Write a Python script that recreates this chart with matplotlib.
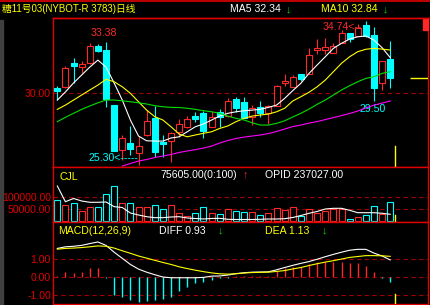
import matplotlib
matplotlib.use('Agg')
import matplotlib.pyplot as plt
from matplotlib.lines import Line2D
from matplotlib.patches import Rectangle
import numpy as np

plt.rcParams['font.family'] = ['Liberation Sans', 'Noto Sans CJK SC', 'DejaVu Sans']

W, H = 430, 305

title = '糖11号03(NYBOT-R 3783)日线'

# daily candles
opens = [30.33, 30.39, 31.97, 31.70, 31.97, 33.10, 32.84, 29.23, 26.28, 26.72,
         26.10, 27.27, 28.36, 26.83, 26.89, 27.44, 27.77, 28.49, 28.69, 27.77,
         28.75, 28.51, 29.61, 29.45, 28.47, 29.08, 28.73, 29.17, 30.70, 30.43,
         31.29, 31.27, 32.86, 32.86, 32.62, 33.28, 33.93, 33.78, 34.48, 33.82,
         30.66, 32.25]
highs = [30.50, 31.79, 32.30, 32.14, 33.28, 33.23, 33.38, 29.23, 27.27, 27.86,
         27.20, 28.90, 29.17, 27.27, 27.45, 28.30, 28.51, 28.75, 28.86, 28.86,
         28.95, 29.67, 29.74, 29.74, 29.23, 29.50, 29.23, 30.55, 31.27, 31.22,
         31.29, 32.95, 33.56, 33.61, 33.32, 34.15, 33.93, 34.52, 34.74, 34.37,
         32.15, 33.43]
lows = [29.56, 30.35, 30.66, 31.35, 31.90, 32.70, 29.08, 26.20, 25.62, 25.95,
        25.30, 27.20, 25.84, 25.84, 25.51, 27.15, 27.72, 28.14, 27.05, 27.77,
        27.81, 28.45, 28.79, 28.36, 27.92, 28.47, 27.99, 29.17, 30.48, 30.43,
        30.83, 31.27, 32.56, 32.56, 32.62, 33.28, 33.38, 33.78, 33.70, 29.50,
        30.22, 30.37]
closes = [30.15, 31.64, 31.79, 31.92, 33.10, 32.79, 29.61, 26.24, 27.05, 26.35,
          26.54, 28.18, 26.17, 26.68, 27.38, 27.97, 28.30, 28.31, 27.55, 28.43,
          28.47, 29.51, 29.02, 28.36, 29.02, 28.73, 29.17, 30.48, 30.81, 31.09,
          30.94, 32.51, 32.97, 33.04, 33.10, 33.93, 33.56, 34.30, 33.78, 30.37,
          32.12, 30.98]

# moving averages as shown
ma5 = [29.56, 30.09, 30.68, 31.20, 31.72, 32.18, 31.72, 30.68, 29.56, 28.25,
       27.20, 26.89, 26.87, 26.87, 27.07, 27.15, 27.48, 27.81, 27.99, 28.25,
       28.51, 28.69, 28.79, 28.86, 28.90, 28.95, 29.08, 29.23, 29.67, 30.18,
       30.66, 31.31, 31.86, 32.40, 32.95, 33.28, 33.56, 33.71, 33.76, 33.49,
       32.99, 32.34]
ma10 = [28.95, 29.23, 29.56, 29.89, 30.22, 30.54, 30.92, 30.76, 30.43, 30.00,
        29.45, 28.90, 28.47, 28.25, 27.81, 27.33, 27.15, 27.27, 27.38, 27.48,
        27.70, 27.86, 28.14, 28.36, 28.51, 28.58, 28.64, 28.79, 29.02, 29.50,
        29.78, 30.07, 30.43, 30.87, 31.42, 31.97, 32.40, 32.73, 32.89, 32.95,
        32.90, 32.84]
ma20 = [28.14, 28.43, 28.69, 28.95, 29.17, 29.38, 29.56, 29.56, 29.51, 29.45,
        29.38, 29.30, 29.19, 29.12, 29.08, 29.07, 29.02, 28.95, 28.86, 28.79,
        28.69, 28.51, 28.36, 28.25, 28.07, 27.92, 27.92, 28.03, 28.20, 28.45,
        28.69, 28.97, 29.28, 29.56, 29.89, 30.22, 30.50, 30.76, 30.98, 31.09,
        31.31, 31.42]
ma60 = [np.nan] * 8 + [25.23, 25.40, 25.56, 25.66, 25.79, 25.89, 25.99, 26.12, 26.22, 26.31,
                       26.41, 26.54, 26.74, 26.91, 27.04, 27.13, 27.20, 27.27, 27.36, 27.50,
                       27.66, 27.82, 27.92, 28.05, 28.15, 28.28, 28.41, 28.54, 28.68, 28.84,
                       29.04, 29.23, 29.36, 29.50]

# volume (CJL) and open interest (OPID)
vol = [86600, 66300, 73200, 41900, 59400, 58100, 109800, 143500, 73200, 73200,
       59400, 60000, 66300, 48800, 66300, 35000, 21500, 32500, 56900, 32500,
       28500, 48800, 40000, 36600, 36600, 25600, 32500, 55300, 45900, 56900,
       22800, 48800, 32500, 41900, 48800, 48800, 8100, 16300, 25600, 63400,
       28500, 77200]
opid = [299500, 264800, 271900, 266400, 263500, 263500, 264200, 253800, 252000, 239800,
        235400, 231700, 229500, 229500, 231000, 231700, 228800, 227700, 226600, 227700,
        228100, 225900, 225500, 225500, 225500, 225900, 226600, 226600, 227200, 229900,
        234300, 239200, 243200, 248700, 250200, 250200, 245800, 240500, 240500, 240500,
        239200, 237027]

# MACD(12,26,9)
diff = [1.57, 1.66, 1.69, 1.74, 1.84, 1.93, 1.74, 1.36, 1.02, 0.68,
        0.42, 0.25, 0.11, -0.02, -0.06, -0.06, -0.06, -0.06, -0.04, 0.03,
        0.04, 0.09, 0.17, 0.22, 0.25, 0.26, 0.27, 0.38, 0.51, 0.63,
        0.74, 0.84, 0.97, 1.11, 1.24, 1.36, 1.47, 1.52, 1.52, 1.31,
        1.15, 0.93]
dea = [1.53, 1.57, 1.59, 1.62, 1.66, 1.71, 1.69, 1.59, 1.44, 1.30,
       1.15, 1.03, 0.91, 0.79, 0.68, 0.55, 0.45, 0.36, 0.28, 0.21,
       0.16, 0.14, 0.16, 0.20, 0.23, 0.24, 0.25, 0.29, 0.34, 0.43,
       0.51, 0.62, 0.72, 0.81, 0.89, 0.98, 1.07, 1.12, 1.17, 1.17,
       1.16, 1.13]
hist = [0.02, 0.28, 0.20, 0.28, 0.47, 0.47, -0.05, -1.02, -1.11, -1.29,
        -1.42, -1.35, -1.29, -1.24, -1.11, -0.79, -0.56, -0.37, -0.28, -0.18,
        -0.09, -0.05, 0.03, 0.03, 0.04, 0.03, 0.05, 0.32, 0.47, 0.56,
        0.56, 0.69, 0.80, 0.80, 0.83, 0.80, 0.78, 0.78, 0.61, 0.25,
        -0.05, -0.31]

RED = '#e00000'
DRED = '#a00000'
UP = '#ff2828'
DN = '#00ffff'
YEL = '#ffff00'
GRN = '#00e000'
MAG = '#ff00ff'
FS = 7.6

o, h, l, c = map(np.array, (opens, highs, lows, closes))
n = len(o)
x = np.arange(n)
up = c >= o
cols = [UP if u else DN for u in up]

fig = plt.figure(figsize=(W / 100, H / 100), dpi=100, facecolor='black')


def box(x0, y0, x1, y1):
    return [x0 / W, 1 - y1 / H, (x1 - x0) / W, (y1 - y0) / H]


def px(xp, yp):
    return xp / W, 1 - yp / H


ax = fig.add_axes(box(53, 18, 428, 167))
axv = fig.add_axes(box(53, 167, 428, 222), sharex=ax)
axm = fig.add_axes(box(53, 222, 428, 304), sharex=ax)

for a in (ax, axv, axm):
    a.set_facecolor('black')
    for s in a.spines.values():
        s.set_color(RED)
        s.set_linewidth(1.0)
    a.tick_params(axis='x', bottom=False, labelbottom=False)
    a.tick_params(axis='y', length=0, pad=1.5, labelcolor=RED, labelsize=FS)

ax.set_xlim(-0.53, 45.65)
dash = dict(color=DRED, lw=0.8, ls=(0, (4, 3)), zorder=1)

# price panel
ax.set_ylim(25.17, 34.94)
ax.set_yticks([30])
ax.set_yticklabels(['30.00'])
ax.axhline(30, **dash)
ax.vlines(x, l, h, colors=cols, lw=0.8, zorder=2)
body = np.maximum(np.abs(c - o), 0.04)
ax.bar(x, body, bottom=np.minimum(o, c), width=0.74,
       color=['black' if u else DN for u in up], edgecolor=cols, lw=0.8, zorder=3)
ax.plot(x, ma5, color='white', lw=0.8, zorder=4)
ax.plot(x, ma10, color=YEL, lw=0.8, zorder=4)
ax.plot(x, ma20, color=GRN, lw=0.8, zorder=4)
ax.plot(x, ma60, color=MAG, lw=0.8, zorder=4)
ax.hlines(c[-1], 43.4, 45.65, color=YEL, lw=1.0, zorder=4)
ax.axvline(n - 0.4, ymin=0.0, ymax=0.14, color=YEL, lw=1.0, zorder=4)

ann = dict(textcoords='offset pixels', fontsize=FS, va='center')
ax.annotate('33.38', xy=(6, h[6]), xytext=(-2, 9), color=UP, ha='center', **ann)
ax.annotate('34.74<--', xy=(38, h[38]), xytext=(-4, -6), color=UP, ha='right', **ann)
ax.annotate('25.30<-----', xy=(10, l[10]), xytext=(0, 7), color=DN, ha='right', **ann)
ax.annotate('29.50', xy=(39, l[39]), xytext=(-1, -8), color=DN, ha='center', **ann)

# volume panel
axv.set_ylim(-2800, 220700)
axv.set_yticks([100000, 50000])
axv.set_yticklabels(['100000.00', '50000.00'])
axv.axhline(100000, **dash)
axv.axhline(50000, **dash)
axv.bar(x, vol, width=0.74, color='black', edgecolor=cols, lw=0.8, zorder=2)
axv.axvline(n - 0.4, ymin=0.0, ymax=0.12, color=YEL, lw=1.0, zorder=4)
axo = axv.twinx()
axo.set_ylim(219950, 341500)
axo.axis('off')
axo.plot(x, opid, color='white', lw=0.8)

# MACD panel
axm.set_ylim(-1.52, 3.04)
axm.set_yticks([1, 0, -1])
axm.set_yticklabels(['1.00', '0.00', '-1.00'])
for v in (1, 0, -1):
    axm.axhline(v, **dash)
hv = np.array(hist)
axm.vlines(x, 0, hv, colors=[UP if v > 0 else DN for v in hv], lw=1.0, zorder=2)
axm.plot(x, diff, color='white', lw=0.8, zorder=3)
axm.plot(x, dea, color=YEL, lw=0.8, zorder=3)
axm.axvline(n - 0.4, ymin=0.0, ymax=0.12, color=YEL, lw=1.0, zorder=4)

# header and frame
fig.add_artist(Line2D([0, 1], [1 - 1 / H] * 2, color=RED, lw=1.2))
fig.add_artist(Line2D([53 / W, 1], [1 - 18 / H] * 2, color=RED, lw=1.0))
fig.add_artist(Rectangle((0, 0), 2.5 / W, 1 - 20 / H, color='#404040'))
fig.add_artist(Rectangle((423 / W, 1 - 30 / H), 5 / W, 11 / H, color=UP))


def label(xp, yp, s, color, size=FS, weight='normal'):
    fig.text(*px(xp, yp), s, color=color, fontsize=size, ha='left', va='center',
             fontweight=weight)


label(2, 9, title, YEL, 7.0)
label(230, 9.5, f'MA5 {ma5[-1]:.2f}', 'white')
label(286, 9.5, '↓', GRN, weight='bold')
label(321, 9.5, f'MA10 {ma10[-1]:.2f}', YEL)
label(383, 9.5, '↓', GRN, weight='bold')

label(59, 176.5, 'CJL', YEL)
label(160, 174.5, '75605.00(0:100)', 'white')
label(243, 174.5, '↑', UP, weight='bold')
label(265, 174.5, f'OPID {opid[-1]:.2f}', 'white')

label(58, 230.5, 'MACD(12,26,9)', YEL)
label(159, 230.5, f'DIFF {diff[-1]:.2f}', 'white')
label(218, 230.5, '↓', GRN, weight='bold')
label(265, 230.5, f'DEA {dea[-1]:.2f}', YEL)
label(322, 230.5, '↓', GRN, weight='bold')

fig.savefig('out.png', dpi=100, facecolor='black')
